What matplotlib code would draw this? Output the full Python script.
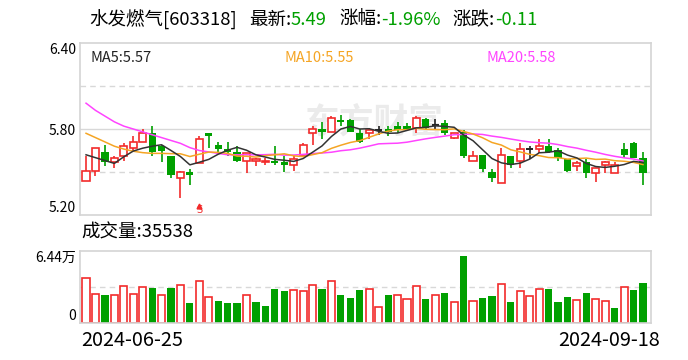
import numpy as np
import pandas as pd
import matplotlib
matplotlib.use('Agg')
import matplotlib.pyplot as plt

plt.rcParams['font.family'] = ['Noto Sans CJK SC', 'DejaVu Sans']

name = '水发燃气'
code = '603318'
first_date = '2024-06-25'
last_date = '2024-09-18'

opens = [5.44, 5.51, 5.64, 5.57, 5.61, 5.67, 5.71, 5.77, 5.68, 5.61,
         5.46, 5.50, 5.56, 5.77, 5.69, 5.66, 5.64, 5.58, 5.58, 5.57,
         5.58, 5.57, 5.55, 5.62, 5.77, 5.80, 5.78, 5.86, 5.86, 5.77,
         5.77, 5.79, 5.80, 5.82, 5.82, 5.81, 5.87, 5.83, 5.84, 5.74,
         5.78, 5.58, 5.62, 5.50, 5.42, 5.61, 5.58, 5.66, 5.66, 5.68,
         5.65, 5.59, 5.54, 5.57, 5.49, 5.55, 5.49, 5.66, 5.70, 5.60]
highs = [5.61, 5.67, 5.69, 5.61, 5.70, 5.75, 5.80, 5.82, 5.69, 5.61,
         5.51, 5.52, 5.75, 5.77, 5.71, 5.71, 5.68, 5.63, 5.60, 5.60,
         5.68, 5.61, 5.61, 5.70, 5.82, 5.85, 5.89, 5.90, 5.87, 5.80,
         5.81, 5.82, 5.82, 5.85, 5.84, 5.89, 5.88, 5.87, 5.86, 5.77,
         5.79, 5.65, 5.62, 5.52, 5.67, 5.61, 5.70, 5.68, 5.73, 5.73,
         5.67, 5.59, 5.58, 5.59, 5.53, 5.58, 5.57, 5.70, 5.71, 5.64]
lows = [5.44, 5.47, 5.54, 5.53, 5.58, 5.64, 5.71, 5.61, 5.57, 5.46,
        5.32, 5.41, 5.56, 5.67, 5.63, 5.61, 5.57, 5.49, 5.54, 5.55,
        5.55, 5.50, 5.51, 5.62, 5.69, 5.73, 5.78, 5.82, 5.78, 5.70,
        5.73, 5.76, 5.75, 5.77, 5.79, 5.77, 5.80, 5.80, 5.76, 5.73,
        5.60, 5.58, 5.50, 5.43, 5.42, 5.53, 5.53, 5.59, 5.63, 5.63,
        5.58, 5.50, 5.51, 5.46, 5.43, 5.49, 5.49, 5.60, 5.60, 5.41]
closes = [5.51, 5.67, 5.57, 5.60, 5.68, 5.71, 5.77, 5.64, 5.65, 5.48,
          5.50, 5.48, 5.73, 5.75, 5.66, 5.64, 5.58, 5.63, 5.59, 5.58,
          5.56, 5.55, 5.59, 5.69, 5.80, 5.78, 5.88, 5.85, 5.78, 5.71,
          5.79, 5.79, 5.78, 5.79, 5.80, 5.88, 5.81, 5.83, 5.77, 5.77,
          5.61, 5.61, 5.52, 5.46, 5.62, 5.55, 5.66, 5.66, 5.68, 5.64,
          5.60, 5.51, 5.56, 5.49, 5.53, 5.57, 5.55, 5.62, 5.60, 5.49]
volumes = [40500, 26000, 25400, 25100, 33300, 26000, 32400, 31700, 25100, 31700,
           34200, 18100, 37800, 23300, 20000, 18100, 18100, 25100, 19000, 15400,
           30800, 29000, 29700, 28700, 34200, 30800, 37800, 25400, 22700, 29900,
           30600, 14200, 25400, 25100, 21500, 33300, 21800, 25100, 27200, 18800,
           59900, 19700, 22700, 24500, 35100, 19000, 28700, 24200, 30600, 30800,
           19000, 23600, 20600, 27200, 21500, 19700, 13600, 32400, 29900, 35538]

# moving averages before enough days are in the window
ma5_lead = [5.62, 5.60, 5.58, 5.56]
ma10_lead = [5.77, 5.74, 5.71, 5.68, 5.66, 5.645, 5.635, 5.63, 5.63]
ma20_lead = [5.98, 5.93, 5.89, 5.85, 5.82, 5.80, 5.78, 5.76, 5.74, 5.72,
             5.70, 5.67, 5.65, 5.64, 5.63, 5.62, 5.62, 5.62, 5.62]

price_ticks = [5.20, 5.80, 6.40]
vol_top = 64400
sell_day = 12

red = '#f22b2b'
green = '#00a000'
black = '#222222'
frame = '#d4d4d4'

n = len(closes)
x = np.arange(n)
o = np.array(opens)
h = np.array(highs)
l = np.array(lows)
c = np.array(closes)
v = np.array(volumes)

s = pd.Series(closes)
ma5 = s.rolling(5).mean().values
ma10 = s.rolling(10).mean().values
ma20 = s.rolling(20).mean().values
ma5[:len(ma5_lead)] = ma5_lead
ma10[:len(ma10_lead)] = ma10_lead
ma20[:len(ma20_lead)] = ma20_lead

fig = plt.figure(figsize=(6.88, 3.6), dpi=100)
W, H = 688, 360
ax = fig.add_axes([80 / W, 1 - 215 / H, 571 / W, 172 / H])
axv = fig.add_axes([80 / W, 1 - 323 / H, 571 / W, 72 / H])

for a in (ax, axv):
    a.set_xlim(-0.64, n - 0.15)
    a.set_xticks([])
    for sp in a.spines.values():
        sp.set_color(frame)
        sp.set_linewidth(1.2)
    a.tick_params(axis='y', length=0, pad=3, labelsize=10)

# price panel
ax.set_ylim(price_ticks[0], price_ticks[-1])
ax.axhline(price_ticks[1], color='#d8d8d8', lw=1.0, zorder=0)
q = (price_ticks[-1] - price_ticks[0]) / 4
for g in (price_ticks[0] + q, price_ticks[-1] - q):
    ax.axhline(g, color='#d8d8d8', lw=1.0, ls=(0, (4, 3)), zorder=0)
ax.set_yticks(price_ticks)
ax.set_yticklabels([f'{t:.2f}' for t in price_ticks])
labs = ax.get_yticklabels()
labs[0].set_va('bottom')
labs[-1].set_va('top')

ax.text(0.515, 0.54, '东方财富', transform=ax.transAxes, fontsize=25,
        fontweight='bold', color='#ebebeb', ha='center', va='center', zorder=0)

w = 0.76
for i in range(n):
    if c[i] > o[i]:
        col = red
    elif c[i] < o[i]:
        col = green
    else:
        col = black
    ax.vlines(x[i], l[i], h[i], color=col, lw=1.2, zorder=2)
    if c[i] == o[i]:
        ax.hlines(c[i], x[i] - w / 2, x[i] + w / 2, color=col, lw=1.4, zorder=3)
    elif c[i] > o[i]:
        ax.bar(x[i], c[i] - o[i], w, bottom=o[i], facecolor='white',
               edgecolor=col, linewidth=1.2, zorder=3)
    else:
        ax.bar(x[i], o[i] - c[i], w, bottom=c[i], color=col,
               linewidth=0, zorder=3)

ax.plot(x, ma20, color='#ff44ff', lw=1.1, zorder=4)
ax.plot(x, ma10, color='#f5a524', lw=1.1, zorder=4)
ax.plot(x, ma5, color='#333333', lw=1.1, zorder=4)

ax.text(sell_day, 5.235, 'S', color=red, fontsize=7, ha='center', va='center',
        family='DejaVu Sans')
ax.plot(sell_day, 5.265, marker='^', color=red, ms=3.5, clip_on=False)

ax.text(11 / 571, 0.955, f'MA5:{ma5[-1]:.2f}', transform=ax.transAxes,
        fontsize=10.5, color='#222222', va='top')
ax.text(205 / 571, 0.955, f'MA10:{ma10[-1]:.2f}', transform=ax.transAxes,
        fontsize=10.5, color='#f5a524', va='top')
ax.text(406 / 571, 0.955, f'MA20:{ma20[-1]:.2f}', transform=ax.transAxes,
        fontsize=10.5, color='#ff44ff', va='top')

# volume panel
up = np.r_[c[0] >= o[0], c[1:] >= c[:-1]]
axv.set_ylim(0, vol_top)
axv.axhline(vol_top / 2, color='#d8d8d8', lw=1.0, ls=(0, (4, 3)), zorder=0)
for i in range(n):
    if up[i]:
        axv.bar(x[i], v[i], w, facecolor='white', edgecolor=red,
                linewidth=1.2, zorder=2)
    else:
        axv.bar(x[i], v[i], w, color=green, linewidth=0, zorder=2)
axv.set_yticks([0, vol_top])
axv.set_yticklabels(['0', f'{vol_top / 10000:.2f}万'])
vl = axv.get_yticklabels()
vl[0].set_va('bottom')
vl[1].set_va('top')

# header texts
r = fig.canvas.get_renderer()
last = c[-1]
chg = c[-1] - c[-2]
pct = chg / c[-2] * 100
parts = [(f'{name}[{code}]', 'black'), ('最新:', 'black'), (f'{last:.2f}', green),
         ('涨幅:', 'black'), (f'{pct:.2f}%', green), ('涨跌:', 'black'),
         (f'{chg:.2f}', green)]
px = 89
for k, (txt, col) in enumerate(parts):
    t = fig.text(px / W, 1 - 20 / H, txt, color=col, fontsize=13.3, va='center')
    bb = t.get_window_extent(renderer=r)
    px = bb.x1
    if col != 'black' or k == 0:
        px += 12

fig.text(81 / W, 1 - 233 / H, f'成交量:{volumes[-1]}', fontsize=13.3, va='center')
fig.text(81 / W, 1 - 340 / H, first_date, fontsize=14.3, va='center')
fig.text(660 / W, 1 - 340 / H, last_date, fontsize=14.3, va='center', ha='right')

fig.savefig('out.png', dpi=100)
